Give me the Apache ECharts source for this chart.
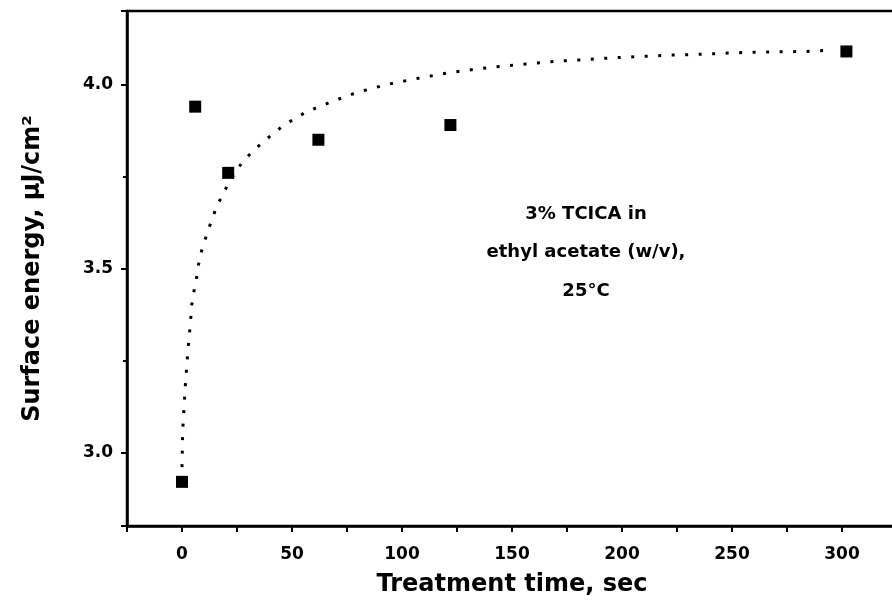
<!DOCTYPE html>
<html>
<head>
<meta charset="utf-8">
<script src="https://cdn.jsdelivr.net/npm/echarts@6/dist/echarts.min.js"></script>
<style>
  html, body { margin: 0; padding: 0; background: #fff; }
  #main { width: 892px; height: 602px; }
</style>
</head>
<body>
<div id="main"></div>
<script>
// measured points: treatment time (sec) vs surface energy
var timeSec = [0, 6, 21, 62, 122, 302];
var energy = [2.92, 3.94, 3.76, 3.85, 3.89, 4.09];

// dotted fit curve
var fitTime = [0, 0.2, 0.5, 1.0, 1.5, 2.1, 2.6, 3.2, 3.8, 4.4, 5.5, 6.5, 7.5, 8.5, 10.3, 12, 13.9, 15.9,
  18.5, 21.2, 27.5, 32.1, 36.6, 41.2, 45.9, 51.2, 56.8, 62.5, 68.2, 73.9, 79.5, 85.6, 91.6, 97.7,
  110, 122, 135, 147, 160, 172, 184, 196, 208, 221, 234, 246, 259, 271, 284, 296];
var fitEnergy = [2.96, 3.03, 3.08, 3.13, 3.18, 3.23, 3.27, 3.31, 3.35, 3.40, 3.44, 3.47, 3.51, 3.54, 3.575, 3.606, 3.638, 3.671,
  3.70, 3.733, 3.79, 3.818, 3.843, 3.865, 3.888, 3.907, 3.927, 3.94, 3.954, 3.966, 3.979, 3.988, 3.998, 4.006,
  4.02, 4.033, 4.043, 4.051, 4.058, 4.064, 4.068, 4.073, 4.076, 4.08, 4.082, 4.085, 4.088, 4.089, 4.09, 4.094];

var xLabels = ['0', '50', '100', '150', '200', '250', '300'];
var yLabels = ['3.0', '3.5', '4.0'];

var noteLines = ['3% TCICA in', 'ethyl acetate (w/v),', '25°C'];

var font = 'DejaVu Sans, sans-serif';

var myChart = echarts.init(document.getElementById('main'));

var pts = timeSec.map(function (t, i) { return [t, energy[i]]; });
var fit = fitTime.map(function (t, i) { return [t, fitEnergy[i]]; });

myChart.setOption({
  animation: false,
  backgroundColor: '#fff',
  grid: {
    left: 127, top: 11, right: -5, bottom: 76,
    containLabel: false,
    outerBoundsMode: 'none',
    show: true, borderColor: '#000', borderWidth: 2.5
  },
  xAxis: {
    type: 'value',
    min: -25, max: 325, interval: 25,
    name: 'Treatment time, sec',
    nameLocation: 'middle',
    nameGap: 47,
    nameTextStyle: { fontFamily: font, fontWeight: 'bold', fontSize: 24, color: '#000' },
    axisLine: { onZero: false, lineStyle: { color: '#000', width: 2.5 } },
    axisTick: { inside: false, length: 6, lineStyle: { color: '#000', width: 2 } },
    axisLabel: {
      margin: 20,
      fontFamily: font, fontWeight: 'bold', fontSize: 17, color: '#000',
      formatter: function (v) {
        var s = String(v);
        return xLabels.indexOf(s) >= 0 ? s : '';
      }
    },
    splitLine: { show: false }
  },
  yAxis: {
    type: 'value',
    min: 2.8, max: 4.2, splitNumber: 3,
    name: 'Surface energy, µJ/cm²',
    nameLocation: 'middle',
    nameGap: 82,
    nameTextStyle: { fontFamily: font, fontWeight: 'bold', fontSize: 24, color: '#000' },
    axisLine: { onZero: false, lineStyle: { color: '#000', width: 2.5 } },
    axisTick: { inside: false, length: 6, lineStyle: { color: '#000', width: 2 } },
    minorTick: { show: true, splitNumber: 2, length: 4, lineStyle: { color: '#000', width: 2 } },
    axisLabel: {
      margin: 14,
      showMinLabel: false, showMaxLabel: false,
      fontFamily: font, fontWeight: 'bold', fontSize: 17, color: '#000',
      formatter: function (v) {
        var s = v.toFixed(1);
        return yLabels.indexOf(s) >= 0 && Math.abs(v * 2 - Math.round(v * 2)) < 1e-6 ? s : '';
      }
    },
    splitLine: { show: false }
  },
  series: [
    {
      type: 'line',
      data: fit,
      showSymbol: false,
      smooth: false,
      z: 1,
      lineStyle: { color: '#000', width: 3, type: [3, 10.5] }
    },
    {
      type: 'scatter',
      data: pts,
      symbol: 'rect',
      symbolSize: 12,
      z: 3,
      itemStyle: { color: '#000', opacity: 1 }
    }
  ],
  graphic: noteLines.map(function (line, i) {
    return {
      type: 'text',
      x: 586, y: 214 + i * 38.5,
      style: {
        text: line,
        align: 'center',
        verticalAlign: 'middle',
        fontFamily: font, fontWeight: 'bold', fontSize: 18, fill: '#000'
      }
    };
  })
});
</script>
</body>
</html>
